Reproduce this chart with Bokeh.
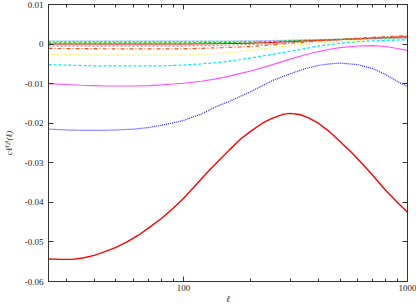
from bokeh.plotting import figure
from bokeh.models import LogAxis, LinearAxis, FixedTicker
from bokeh.embed import file_html
from bokeh.resources import INLINE

# ---- data ----
ell_red = [25, 28, 32, 36, 40, 45, 50, 56, 63, 71, 80, 90, 100, 112, 125, 140, 160, 180,
           200, 225, 250, 280, 300, 330, 360, 400, 450, 500, 560, 630, 710, 800, 900, 1000]
s_red = [-0.0543, -0.0544, -0.0544, -0.0540, -0.0534, -0.0524, -0.0514, -0.0500, -0.0483,
         -0.0462, -0.0440, -0.0415, -0.0390, -0.0360, -0.0330, -0.0301, -0.0268, -0.0240,
         -0.0220, -0.0200, -0.0187, -0.0177, -0.0175, -0.0178, -0.0186, -0.0200, -0.0222,
         -0.0246, -0.0273, -0.0303, -0.0336, -0.0370, -0.0400, -0.0425]

ell = [25, 30, 35, 40, 45, 50, 60, 70, 80, 90, 100, 120, 140, 160, 180, 200,
       250, 300, 350, 400, 450, 500, 600, 700, 800, 900, 1000]
s_blue = [-0.0215, -0.0217, -0.0218, -0.0218, -0.0218, -0.0217, -0.0215, -0.0211,
          -0.0205, -0.0199, -0.0193, -0.0177, -0.0158, -0.0145, -0.0132, -0.0120,
          -0.0092, -0.0075, -0.0062, -0.0054, -0.0050, -0.0048, -0.0052, -0.0062,
          -0.0077, -0.0094, -0.0108]
s_magenta = [-0.0100, -0.0102, -0.0104, -0.0105, -0.0106, -0.0106, -0.0106, -0.0105,
             -0.0103, -0.0101, -0.0099, -0.0094, -0.0088, -0.0081, -0.0074, -0.0068,
             -0.0052, -0.0038, -0.0027, -0.0019, -0.0013, -0.0009, -0.0005, -0.0004,
             -0.0006, -0.0011, -0.0016]
s_cyan = [-0.0052, -0.0053, -0.0054, -0.0055, -0.0055, -0.0055, -0.0055, -0.0055,
          -0.0055, -0.0054, -0.0053, -0.0050, -0.0047, -0.0043, -0.0039, -0.0035,
          -0.0026, -0.0018, -0.0011, -0.0005, -0.0001, 0.0002, 0.0006, 0.0008,
          0.0009, 0.0010, 0.0011]

ell_small = [25, 50, 100, 150, 200, 250, 300, 400, 500, 700, 1000]
s_yellow = [-0.0026, -0.0028, -0.0028, -0.0023, -0.0016, -0.0009, -0.0004, 0.0003, 0.0007, 0.0011, 0.0013]
s_orange = [-0.0011, -0.0012, -0.0012, -0.0009, -0.0006, -0.0002, 0.0002, 0.0008, 0.0012, 0.0017, 0.0021]
s_gray = [-0.0005, -0.0005, -0.0005, -0.0003, -0.0001, 0.0001, 0.0004, 0.0008, 0.0011, 0.0015, 0.0019]
s_red2 = [0.0000, 0.0000, 0.0000, 0.0001, 0.0002, 0.0004, 0.0006, 0.0009, 0.0011, 0.0015, 0.0019]
s_green = [0.0003, 0.0003, 0.0003, 0.0004, 0.0005, 0.0006, 0.0008, 0.0010, 0.0012, 0.0015, 0.0017]
s_lavender = [0.0006, 0.0006, 0.0006, 0.0006, 0.0007, 0.0008, 0.0009, 0.0011, 0.0012, 0.0014, 0.0016]
s_lightblue = [0.0008, 0.0008, 0.0008, 0.0008, 0.0008, 0.0009, 0.0010, 0.0011, 0.0012, 0.0013, 0.0014]

x_major = [100, 1000]
x_minor = [30, 40, 50, 60, 70, 80, 90, 200, 300, 400, 500, 600, 700, 800, 900]
y_major = [0.01, 0.0, -0.01, -0.02, -0.03, -0.04, -0.05, -0.06]
y_labels = {0.01: "0.01", 0.0: "0", -0.01: "-0.01", -0.02: "-0.02", -0.03: "-0.03",
            -0.04: "-0.04", -0.05: "-0.05", -0.06: "-0.06"}
x_title = "ℓ"
y_title = "cℓ⁽²⁾(ℓ)"

FONT = "Liberation Serif, DejaVu Serif, serif"
AX = "#333333"

p = figure(width=416, height=306, x_axis_type="log", x_range=(25, 1000), y_range=(-0.06, 0.01),
           output_backend="svg", toolbar_location=None,
           min_border_left=45, min_border_right=9, min_border_top=4, min_border_bottom=23)
p.background_fill_color = "white"
p.border_fill_color = "white"
p.xgrid.visible = False
p.ygrid.visible = False
p.outline_line_color = AX

def style_axis(ax, labels=True):
    ax.axis_line_color = AX
    ax.major_tick_line_color = AX
    ax.minor_tick_line_color = AX
    ax.major_tick_in = 5
    ax.major_tick_out = 0
    ax.minor_tick_in = 3
    ax.minor_tick_out = 0
    ax.major_label_text_font = FONT
    ax.major_label_text_font_size = "9px"
    ax.axis_label_text_font = FONT
    ax.axis_label_text_font_size = "9px"
    ax.axis_label_text_font_style = "italic"
    ax.axis_label_text_color = "#222222"
    if labels:
        ax.major_label_text_color = "#222222"
        ax.major_label_standoff = 5
    else:
        ax.major_label_text_color = None
        ax.major_label_standoff = 0

xb = p.xaxis[0]
xb.ticker = FixedTicker(ticks=x_major, minor_ticks=x_minor)
style_axis(xb)
xb.major_label_standoff = 3
xb.major_label_overrides = {100: "100", 1000: "1000"}
xb.axis_label = x_title
xb.axis_label_standoff = 0

yl = p.yaxis[0]
yl.ticker = FixedTicker(ticks=y_major, minor_ticks=[])
style_axis(yl)
yl.major_label_overrides = y_labels
yl.axis_label = y_title
yl.axis_label_standoff = 8

xa = LogAxis(ticker=FixedTicker(ticks=x_major, minor_ticks=x_minor))
style_axis(xa, labels=False)
p.add_layout(xa, "above")

yr = LinearAxis(ticker=FixedTicker(ticks=y_major, minor_ticks=[]))
style_axis(yr, labels=False)
p.add_layout(yr, "right")

p.line(ell_small, s_lightblue, line_color="#70b0ff", line_width=1.2, line_dash="1 1")
p.line(ell_small, s_lavender, line_color="#a080e0", line_width=1.2, line_dash="2 2")
p.line(ell_small, s_green, line_color="#00e000", line_width=1.2, line_dash="3 2")
p.line(ell_small, s_red2, line_color="#ff0000", line_width=1.0)
p.line(ell_small, s_gray, line_color="#a0a0a0", line_width=1.2, line_dash="2 2")
p.line(ell_small, s_orange, line_color="#ff5010", line_width=1.2, line_dash="4 2 1 2")
p.line(ell_small, s_yellow, line_color="#f0f000", line_width=1.2, line_dash="1 2")
p.line(ell, s_cyan, line_color="#00e8ff", line_width=1.2, line_dash="3 2")
p.line(ell, s_magenta, line_color="#ff50ff", line_width=1.1)
p.line(ell, s_blue, line_color="#2020ff", line_width=1.2, line_dash="1 1")
p.line(ell_red, s_red, line_color="#ff0000", line_width=1.4)

open("out.html", "w").write(file_html(p, INLINE))
